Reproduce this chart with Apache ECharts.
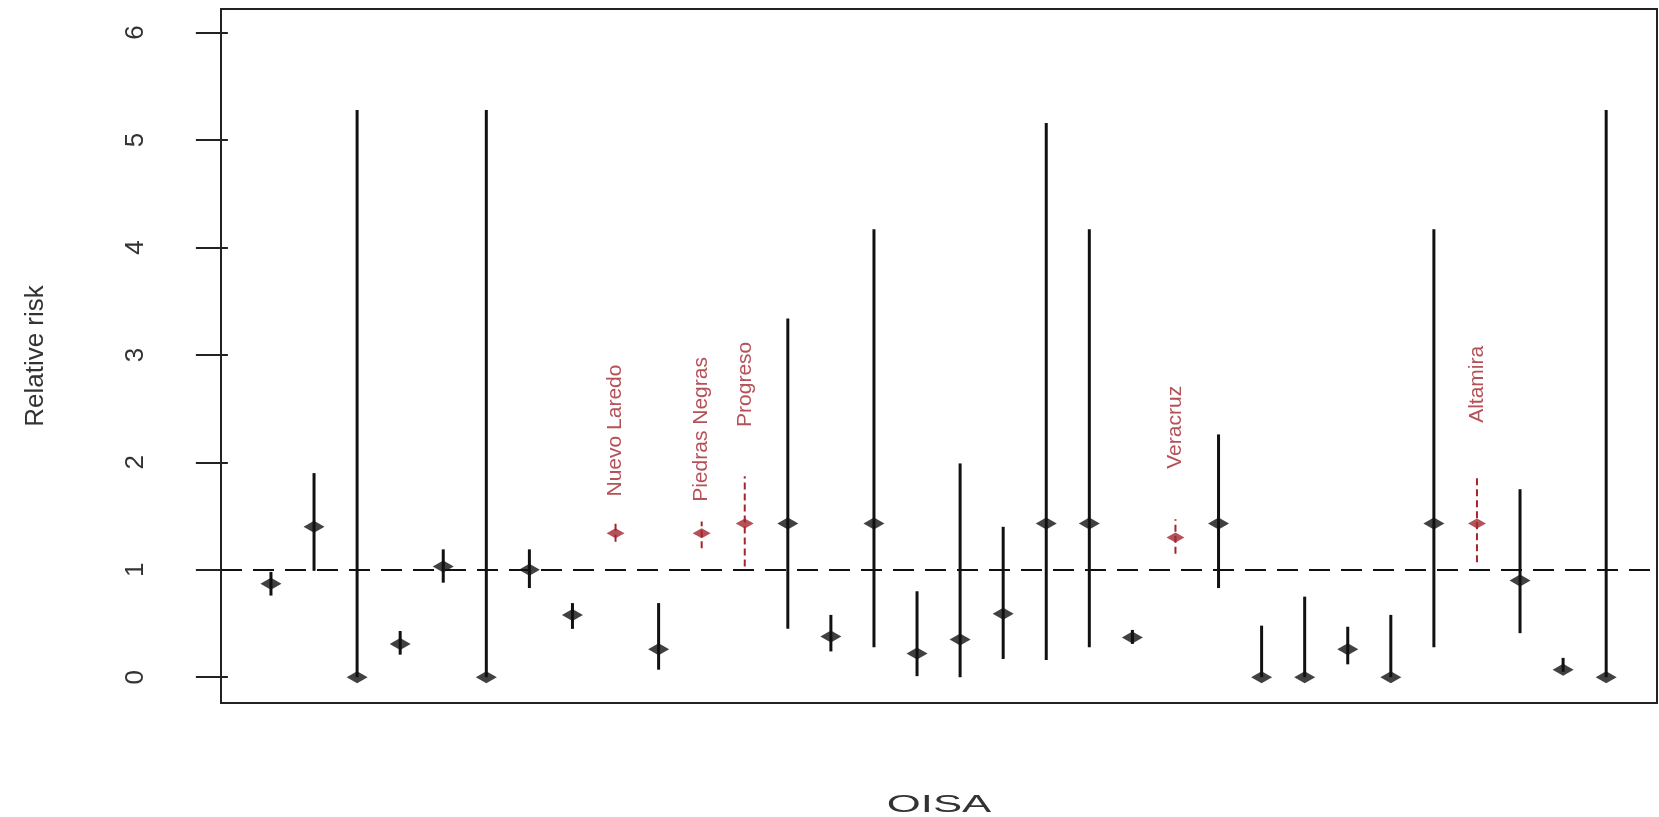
<!DOCTYPE html>
<html>
<head>
<meta charset="utf-8">
<script src="https://cdn.jsdelivr.net/npm/echarts@6/dist/echarts.min.js"></script>
<style>
  html, body { margin: 0; padding: 0; background: #ffffff; }
  #chart { width: 1659px; height: 817px; }
</style>
</head>
<body>
<div id="chart"></div>
<script>
// Relative risk by OISA site, with confidence intervals
const estimate = [0.87, 1.40, 0, 0.31, 1.03, 0, 1.00, 0.58, 1.34, 0.26, 1.34, 1.43, 1.43, 0.38, 1.43, 0.22,
                  0.35, 0.59, 1.43, 1.43, 0.37, 1.30, 1.43, 0, 0, 0.26, 0, 1.43, 1.43, 0.90, 0.07, 0];
const lower    = [0.76, 0.99, 0, 0.21, 0.88, 0, 0.83, 0.45, 1.26, 0.07, 1.20, 1.03, 0.45, 0.24, 0.28, 0.01,
                  0, 0.17, 0.16, 0.28, 0.31, 1.15, 0.83, 0, 0, 0.12, 0, 0.28, 1.07, 0.41, 0.05, 0];
const upper    = [0.98, 1.90, 5.28, 0.43, 1.19, 5.28, 1.19, 0.69, 1.44, 0.69, 1.45, 1.87, 3.34, 0.58, 4.17, 0.80,
                  1.99, 1.40, 5.16, 4.17, 0.44, 1.47, 2.26, 0.48, 0.75, 0.47, 0.58, 4.17, 1.87, 1.75, 0.18, 5.28];
// Sites singled out in red (1-based position along the OISA axis)
const namedIdx   = [9, 11, 12, 22, 29];
const namedSites = ['Nuevo Laredo', 'Piedras Negras', 'Progreso', 'Veracruz', 'Altamira'];
const yTicks = [0, 1, 2, 3, 4, 5, 6];
const refLevel = 1;

const RED = '#a3262e';
const INK = '#111111';

const plainCI = [], namedCI = [], plainPts = [], namedPts = [], namedTags = [];
estimate.forEach((v, i) => {
  const x = i + 1;
  const k = namedIdx.indexOf(x);
  if (k >= 0) {
    namedCI.push([x, lower[i], upper[i]]);
    namedPts.push([x, v]);
    namedTags.push({ value: [x, upper[i]], name: namedSites[k] });
  } else {
    plainCI.push([x, lower[i], upper[i]]);
    plainPts.push([x, v]);
  }
});

function ciRenderer(color, width, dash) {
  return function (params, api) {
    const a = api.coord([api.value(0), api.value(1)]);
    const b = api.coord([api.value(0), api.value(2)]);
    return {
      type: 'line',
      shape: { x1: a[0], y1: a[1], x2: b[0], y2: b[1] },
      style: { stroke: color, lineWidth: width, lineDash: dash }
    };
  };
}

const diamond = 'path://M0,5 L10,0 L20,5 L10,10 Z';

const chart = echarts.init(document.getElementById('chart'));
chart.setOption({
  animation: false,
  backgroundColor: '#ffffff',
  textStyle: { fontFamily: 'Liberation Sans, Arial, sans-serif' },
  grid: {
    left: 221, right: 2, top: 9, bottom: 114,
    show: true, borderColor: '#222222', borderWidth: 2, backgroundColor: 'transparent'
  },
  xAxis: {
    type: 'value', min: -0.16, max: 33.18,
    axisLine: { show: false }, axisTick: { show: false },
    axisLabel: { show: false }, splitLine: { show: false }
  },
  yAxis: {
    type: 'value', min: -0.24, max: 6.22,
    name: 'Relative risk', nameLocation: 'middle', nameRotate: 90, nameGap: 172,
    nameTextStyle: { fontSize: 26, color: '#333333', fontFamily: 'Liberation Sans, Arial, sans-serif' },
    axisLine: { show: false },
    axisTick: { show: true, customValues: yTicks, length: 32, lineStyle: { color: '#222222', width: 2 } },
    axisLabel: {
      customValues: yTicks, rotate: 90, margin: 72, fontSize: 26, color: '#333333',
      fontFamily: 'Liberation Sans, Arial, sans-serif'
    },
    splitLine: { show: false }
  },
  graphic: [{
    type: 'text', x: 939, y: 806, scaleX: 1.9,
    style: {
      text: 'OISA', fontSize: 23, fill: '#333333',
      fontFamily: 'Liberation Sans, Arial, sans-serif',
      textAlign: 'center', textVerticalAlign: 'middle'
    }
  }],
  series: [
    {
      name: 'interval', type: 'custom', data: plainCI,
      encode: { x: 0, y: [1, 2] },
      renderItem: ciRenderer(INK, 3, null),
      markLine: {
        silent: true, symbol: 'none', label: { show: false },
        lineStyle: { color: '#111111', width: 2, type: [21, 11] },
        data: [{ yAxis: refLevel }]
      },
      z: 2
    },
    {
      name: 'named interval', type: 'custom', data: namedCI,
      encode: { x: 0, y: [1, 2] },
      renderItem: ciRenderer(RED, 2, [7, 4]),
      z: 2
    },
    {
      name: 'estimate', type: 'scatter', data: plainPts,
      symbol: diamond, symbolSize: [21, 12],
      itemStyle: { color: INK }, z: 3
    },
    {
      name: 'named estimate', type: 'scatter', data: namedPts,
      symbol: diamond, symbolSize: [18, 10],
      itemStyle: { color: RED }, z: 3
    },
    {
      name: 'site', type: 'scatter', data: namedTags,
      symbolSize: 0, z: 4,
      label: {
        show: true, position: 'top', distance: 92, rotate: 90,
        align: 'center', verticalAlign: 'middle',
        formatter: p => p.name,
        fontSize: 21, color: RED, fontFamily: 'Liberation Sans, Arial, sans-serif'
      }
    }
  ]
});
</script>
</body>
</html>
